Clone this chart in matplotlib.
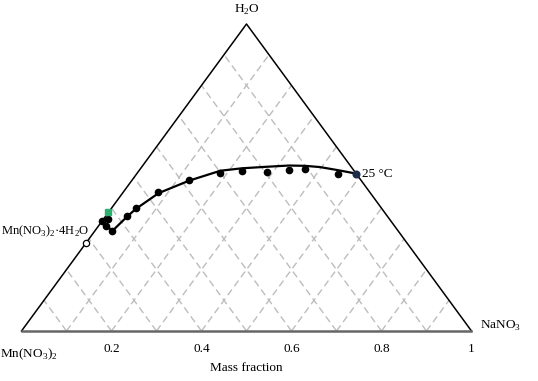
import numpy as np
import matplotlib
matplotlib.use('Agg')
import matplotlib.pyplot as plt

plt.rcParams['font.family'] = ['Liberation Serif', 'DejaVu Serif']
plt.rcParams['mathtext.fontset'] = 'custom'
plt.rcParams['mathtext.rm'] = 'Liberation Serif'

# mass fractions: NaNO3 (b) and H2O (c)
exp_nano3 = [0.000, 0.011, 0.016, 0.039, 0.047, 0.054, 0.077, 0.127, 0.184, 0.229,
             0.287, 0.332, 0.366, 0.448]
exp_h2o = [0.359, 0.364, 0.343, 0.326, 0.375, 0.400, 0.454, 0.492, 0.516, 0.522,
           0.518, 0.524, 0.528, 0.511]

# fitted solubility curve
fit_nano3 = [0.000, 0.016, 0.039, 0.048, 0.055, 0.080, 0.128, 0.181, 0.225, 0.278,
             0.325, 0.361, 0.396, 0.441, 0.486]
fit_h2o = [0.358, 0.344, 0.326, 0.371, 0.397, 0.449, 0.490, 0.522, 0.530, 0.535,
           0.539, 0.538, 0.534, 0.524, 0.513]

# special points
nano3_sat = (0.487, 0.513)      # NaNO3 saturated, binary
mn_sat = (0.0, 0.386)           # Mn(NO3)2 saturated, binary
hydrate = (0.0, 0.287)          # Mn(NO3)2·4H2O composition

ticks = [0.2, 0.4, 0.6, 0.8, 1.0]
tick_labels = ['0.2', '0.4', '0.6', '0.8', '1']


def tern(b, c):
    b = np.asarray(b, dtype=float)
    c = np.asarray(c, dtype=float)
    return b + c / 2, c


fig = plt.figure(figsize=(5.38, 3.81), dpi=100)
ax = fig.add_axes([0, 0, 1, 1])
ax.set_xlim(-0.0478, 1.1478)
ax.set_ylim(-0.1629, 1.0782)
ax.axis('off')

# grid lines
for i in range(1, 10):
    t = i / 10
    # constant NaNO3
    x, y = tern([t, t], [0, 1 - t])
    ax.plot(x, y, color='#bdbdbd', lw=1, dashes=(5, 3), zorder=1)
    # constant Mn(NO3)2
    x, y = tern([1 - t, 0], [0, 1 - t])
    ax.plot(x, y, color='#bdbdbd', lw=1, dashes=(5, 3), zorder=1)

# triangle
ax.plot([0, 0.5, 1], [0, 1, 0], color='black', lw=1.1, zorder=2)
ax.plot([0, 1], [0, 0], color='#666666', lw=1.8, zorder=2)

# curve and points
x, y = tern(fit_nano3, fit_h2o)
ax.plot(x, y, color='black', lw=1.6, zorder=3)
x, y = tern(exp_nano3, exp_h2o)
ax.plot(x, y, 'o', color='black', ms=4.5, zorder=4)
x, y = tern(*nano3_sat)
ax.plot(x, y, 'o', color='#1c2b4a', ms=4.8, zorder=4)
x, y = tern(*mn_sat)
ax.plot(x, y, 's', color='#2bb070', ms=4.5, zorder=4)
x, y = tern(*hydrate)
ax.plot(x, y, 'o', mfc='white', mec='black', mew=0.9, ms=4.5, zorder=4)

# labels
for t, lab in zip(ticks, tick_labels):
    ax.text(t, -0.058, lab, ha='center', va='center', fontsize=9.5)
ax.text(0.5, -0.12, 'Mass fraction', ha='center', va='center', fontsize=9.5)
ax.text(0.5, 1.045, r'H$_2$O', ha='center', va='center', fontsize=9.5)
ax.text(1.02, 0.015, r'NaNO$_3$', ha='left', va='center', fontsize=9.5)
ax.text(-0.047, -0.075, r'Mn(NO$_3$)$_2$', ha='left', va='center', fontsize=9.5)
ax.text(-0.046, 0.325, r'Mn(NO$_3$)$_2$·4H$_2$O', ha='left', va='center', fontsize=9)
ax.text(0.757, 0.513, '25 °C', ha='left', va='center', fontsize=9.5)

fig.savefig('out.png', dpi=100)
